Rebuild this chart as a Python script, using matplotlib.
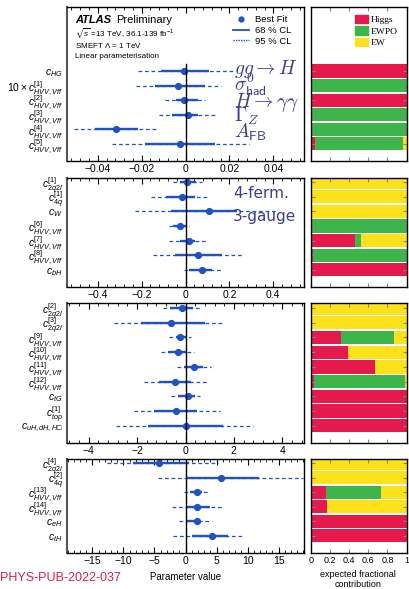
import numpy as np
import matplotlib
matplotlib.use('Agg')
import matplotlib.pyplot as plt
from matplotlib.lines import Line2D
from matplotlib.patches import Patch
from matplotlib.ticker import AutoMinorLocator

plt.rcParams['font.family'] = ['Liberation Sans', 'DejaVu Sans']
plt.rcParams['mathtext.fontset'] = 'custom'
plt.rcParams['mathtext.rm'] = 'Liberation Sans'
plt.rcParams['mathtext.it'] = 'Liberation Sans:italic'
plt.rcParams['mathtext.bf'] = 'Liberation Sans:bold'
plt.rcParams['mathtext.fallback'] = 'stixsans'

# ---- panel 1 ----
P1_LABELS = [r'$c_{HG}$', r'$10\times c^{[1]}_{HVV,Vff}$', r'$c^{[2]}_{HVV,Vff}$',
             r'$c^{[3]}_{HVV,Vff}$', r'$c^{[4]}_{HVV,Vff}$', r'$c^{[5]}_{HVV,Vff}$']
P1_BEST = [-0.0005, -0.0032, -0.0005, 0.001, -0.0318, -0.0023]
P1_LO68 = [-0.011, -0.014, -0.0045, -0.006, -0.0414, -0.0186]
P1_HI68 = [0.0105, 0.009, 0.0055, 0.0055, -0.0218, 0.0136]
P1_LO95 = [-0.0218, -0.0227, -0.0095, -0.0123, -0.051, -0.0336]
P1_HI95 = [0.0218, 0.016, 0.009, 0.0136, -0.0127, 0.029]
P1_HIGGS = [1.0, 0.0, 1.0, 0.0, 0.0, 0.04]
P1_EWPO = [0.0, 1.0, 0.0, 1.0, 1.0, 0.925]
P1_EW = [0.0, 0.0, 0.0, 0.0, 0.0, 0.035]
P1_TICKS = [-0.04, -0.02, 0, 0.02, 0.04]
P1_TICKLABELS = ['\u22120.04', '\u22120.02', '0', '0.02', '0.04']

# ---- panel 2 ----
P2_LABELS = [r'$c^{[1]}_{2q2l}$', r'$c^{[1]}_{4q}$', r'$c_{W}$', r'$c^{[6]}_{HVV,Vff}$',
             r'$c^{[7]}_{HVV,Vff}$', r'$c^{[8]}_{HVV,Vff}$', r'$c_{bH}$']
P2_BEST = [0.009, -0.018, 0.109, -0.027, 0.014, 0.055, 0.073]
P2_LO68 = [-0.023, -0.09, -0.068, -0.055, -0.023, -0.05, 0.018]
P2_HI68 = [0.05, 0.045, 0.236, 0.0, 0.045, 0.168, 0.123]
P2_LO95 = [-0.059, -0.159, -0.232, -0.077, -0.073, -0.15, -0.009]
P2_HI95 = [0.073, 0.105, 0.42, 0.018, 0.1, 0.26, 0.164]
P2_HIGGS = [0.0, 0.0, 0.0, 0.0, 0.465, 0.025, 1.0]
P2_EWPO = [0.0, 0.0, 0.0, 1.0, 0.055, 0.975, 0.0]
P2_EW = [1.0, 1.0, 1.0, 0.0, 0.48, 0.0, 0.0]
P2_TICKS = [-0.4, -0.2, 0, 0.2, 0.4]
P2_TICKLABELS = ['\u22120.4', '\u22120.2', '0', '0.2', '0.4']

# ---- panel 3 ----
P3_LABELS = [r'$c^{[2]}_{2q2l}$', r'$c^{[3]}_{2q2l}$', r'$c^{[9]}_{HVV,Vff}$',
             r'$c^{[10]}_{HVV,Vff}$', r'$c^{[11]}_{HVV,Vff}$', r'$c^{[12]}_{HVV,Vff}$',
             r'$c_{tG}$', r'$c^{[1]}_{top}$', '$c_{uH,dH,H\u25a1}$']
P3_BEST = [-0.16, -0.58, -0.21, -0.33, 0.37, -0.45, 0.12, -0.41, 0.0]
P3_LO68 = [-0.66, -1.86, -0.41, -0.74, -0.08, -1.11, -0.29, -1.32, -1.57]
P3_HI68 = [0.29, 0.82, 0.0, 0.08, 0.74, 0.21, 0.41, 0.49, 1.53]
P3_LO95 = [-0.91, -2.97, -0.70, -1.03, -0.37, -1.73, -0.58, -2.14, -2.89]
P3_HI95 = [0.70, 1.53, 0.21, 0.37, 1.07, 0.87, 0.58, 1.44, 2.8]
P3_HIGGS = [0.0, 0.0, 0.31, 0.39, 0.67, 0.03, 1.0, 1.0, 1.0]
P3_EWPO = [0.0, 0.0, 0.56, 0.0, 0.0, 0.95, 0.0, 0.0, 0.0]
P3_EW = [1.0, 1.0, 0.13, 0.61, 0.33, 0.02, 0.0, 0.0, 0.0]
P3_TICKS = [-4, -2, 0, 2, 4]
P3_TICKLABELS = ['\u22124', '\u22122', '0', '2', '4']

# ---- panel 4 ----
P4_LABELS = [r'$c^{[4]}_{2q2l}$', r'$c^{[2]}_{4q}$', r'$c^{[13]}_{HVV,Vff}$',
             r'$c^{[14]}_{HVV,Vff}$', r'$c_{eH}$', r'$c_{tH}$']
P4_BEST = [-4.2, 5.8, 1.9, 1.9, 1.8, 4.2]
P4_LO68 = [-8.5, 0.1, 0.8, 0.3, 0.3, 1.0]
P4_HI68 = [0.5, 11.8, 2.7, 4.0, 2.4, 6.8]
P4_LO95 = [-12.7, -4.5, -0.3, -2.1, -1.1, -2.0]
P4_HI95 = [5.2, 18.9, 4.0, 6.1, 4.2, 9.4]
P4_HIGGS = [0.0, 0.0, 0.16, 0.17, 1.0, 1.0]
P4_EWPO = [0.0, 0.0, 0.57, 0.0, 0.0, 0.0]
P4_EW = [1.0, 1.0, 0.27, 0.83, 0.0, 0.0]
P4_TICKS = [-15, -10, -5, 0, 5, 10, 15]
P4_TICKLABELS = ['\u221215', '\u221210', '\u22125', '0', '5', '10', '15']

FRAC_TICKS = [0, 0.2, 0.4, 0.6, 0.8, 1]
FRAC_TICKLABELS = ['0', '0.2', '0.4', '0.6', '0.8', '1']

BLUE = '#1f52c4'
RED = '#e5194c'
GREEN = '#3db54a'
YELLOW = '#fde11b'
INK = '#3b3b99'

W, H = 409, 589
fig = plt.figure(figsize=(W / 100, H / 100), dpi=100)

def px(x, y):
    return x / W, 1 - y / H

panels = [
    (P1_LABELS, P1_BEST, P1_LO68, P1_HI68, P1_LO95, P1_HI95, P1_HIGGS, P1_EWPO, P1_EW,
     0.054, P1_TICKS, P1_TICKLABELS, 7, 161, -4.38),
    (P2_LABELS, P2_BEST, P2_LO68, P2_HI68, P2_LO95, P2_HI95, P2_HIGGS, P2_EWPO, P2_EW,
     0.54, P2_TICKS, P2_TICKLABELS, 178, 287, -0.27),
    (P3_LABELS, P3_BEST, P3_LO68, P3_HI68, P3_LO95, P3_HI95, P3_HIGGS, P3_EWPO, P3_EW,
     4.9, P3_TICKS, P3_TICKLABELS, 303, 443, -0.34),
    (P4_LABELS, P4_BEST, P4_LO68, P4_HI68, P4_LO95, P4_HI95, P4_HIGGS, P4_EWPO, P4_EW,
     19.1, P4_TICKS, P4_TICKLABELS, 459, 553, -0.27),
]

left_axes = []
right_axes = []
for k, (labels, best, lo68, hi68, lo95, hi95, higgs, ewpo, ew,
        xl, ticks, ticklabels, top, bot, ytop) in enumerate(panels):
    n = len(labels)
    y = np.arange(n)
    ybot = n - 1 + 1.17

    ax = fig.add_axes([67 / W, 1 - bot / H, 237 / W, (bot - top) / H])
    for i in range(n):
        ax.plot([lo95[i], hi95[i]], [y[i], y[i]], color=BLUE, lw=0.9, ls=(0, (3, 2.2)))
    ax.hlines(y, lo68, hi68, colors=BLUE, lw=1.7)
    ax.plot(best, y, 'o', color=BLUE, ms=4.2, ls='none')
    vtop = -0.45 if k == 0 else ytop
    ax.plot([0, 0], [vtop, ybot], color='black', lw=1)
    ax.set_xlim(-xl, xl)
    ax.set_ylim(ybot, ytop)
    ax.set_yticks(y, labels, fontsize=7.5)
    ax.tick_params(axis='y', length=0, pad=3)
    ax.set_xticks(ticks, ticklabels)
    ax.xaxis.set_minor_locator(AutoMinorLocator(5))
    ax.tick_params(axis='x', which='both', direction='in', top=True, labelsize=7.5, pad=2)
    ax.tick_params(axis='x', which='major', length=4)
    ax.tick_params(axis='x', which='minor', length=2)
    for s in ax.spines.values():
        s.set_linewidth(1)
    ax.spines['left'].set_color('#555555')
    ax.spines['left'].set_linewidth(1.5)
    left_axes.append(ax)

    axr = fig.add_axes([311 / W, 1 - bot / H, 95.5 / W, (bot - top) / H])
    higgs = np.array(higgs)
    ewpo = np.array(ewpo)
    ew = np.array(ew)
    axr.barh(y, higgs, height=0.9, color=RED, linewidth=0)
    axr.barh(y, ewpo, left=higgs, height=0.9, color=GREEN, linewidth=0)
    axr.barh(y, ew, left=higgs + ewpo, height=0.9, color=YELLOW, linewidth=0)
    axr.set_xlim(0, 1)
    axr.set_ylim(ybot, ytop)
    axr.set_xticks(FRAC_TICKS, FRAC_TICKLABELS if k == 3 else [])
    axr.set_yticks(y, [])
    axr.tick_params(axis='both', direction='in', top=True, right=True, length=3,
                    color='#888888', labelsize=6.5, pad=2)
    for s in axr.spines.values():
        s.set_linewidth(1)
    right_axes.append(axr)

# legends
ax1 = left_axes[0]
handles = [Line2D([], [], marker='o', ls='none', color=BLUE, ms=3.5),
           Line2D([], [], color=BLUE, lw=1.3),
           Line2D([], [], color=BLUE, lw=1.0, ls=(0, (1, 0.8)))]
ax1.legend(handles, ['Best Fit', '68 % CL', '95 % CL'], loc='upper right',
           bbox_to_anchor=(0.97, 0.985), frameon=False, fontsize=6.8,
           handlelength=1.7, handletextpad=0.6, labelspacing=0.2, borderaxespad=0.2)

axr1 = right_axes[0]
patches = [Patch(color=RED), Patch(color=GREEN), Patch(color=YELLOW)]
axr1.legend(patches, ['Higgs', 'EWPO', 'EW'], loc='upper right',
            bbox_to_anchor=(0.97, 0.985), frameon=False,
            prop={'family': 'Liberation Serif', 'size': 6.8},
            handlelength=1.3, handleheight=1.0, handletextpad=0.35,
            labelspacing=0.2, borderaxespad=0.2)

# header
fig.text(*px(75, 23), 'ATLAS', fontsize=8, fontweight='bold', fontstyle='italic', va='baseline')
fig.text(*px(116, 23), 'Preliminary', fontsize=8, va='baseline')
fig.text(*px(75, 35.5), r'$\sqrt{s}$ =13 TeV, 36.1-139 fb$^{-1}$', fontsize=5.8, va='baseline')
fig.text(*px(75, 47.5), r'SMEFT $\Lambda$ = 1 TeV', fontsize=5.8, va='baseline')
fig.text(*px(75, 58), 'Linear parameterisation', fontsize=5.8, va='baseline')

# overlaid labels
overlay = [(r'$gg\rightarrow H$', 74), (r'$\sigma^0_{\mathsf{had}}$', 91),
           (r'$H\rightarrow\gamma\gamma$', 107), (r'$\Gamma_Z$', 122),
           (r'$A_{\mathsf{FB}}$', 138)]
for txt, yb in overlay:
    fig.text(*px(234, yb), txt, fontsize=14, color=INK, va='baseline', math_fontfamily='cm')
fig.text(*px(233, 198), '4-ferm.', fontsize=11, color=INK, va='baseline', family='DejaVu Sans')
fig.text(*px(233, 221), '3-gauge', fontsize=11, color=INK, va='baseline', family='DejaVu Sans')

# footer
fig.text(*px(0, 581), 'PHYS-PUB-2022-037', fontsize=9, color='#dc1f4c', va='baseline')
fig.text(*px(186, 580), 'Parameter value', fontsize=7, ha='center', va='baseline')
fig.text(*px(358, 577), 'expected fractional', fontsize=6.5, ha='center', va='baseline')
fig.text(*px(358, 587), 'contribution', fontsize=6.5, ha='center', va='baseline')

fig.savefig('out.png', dpi=100)
